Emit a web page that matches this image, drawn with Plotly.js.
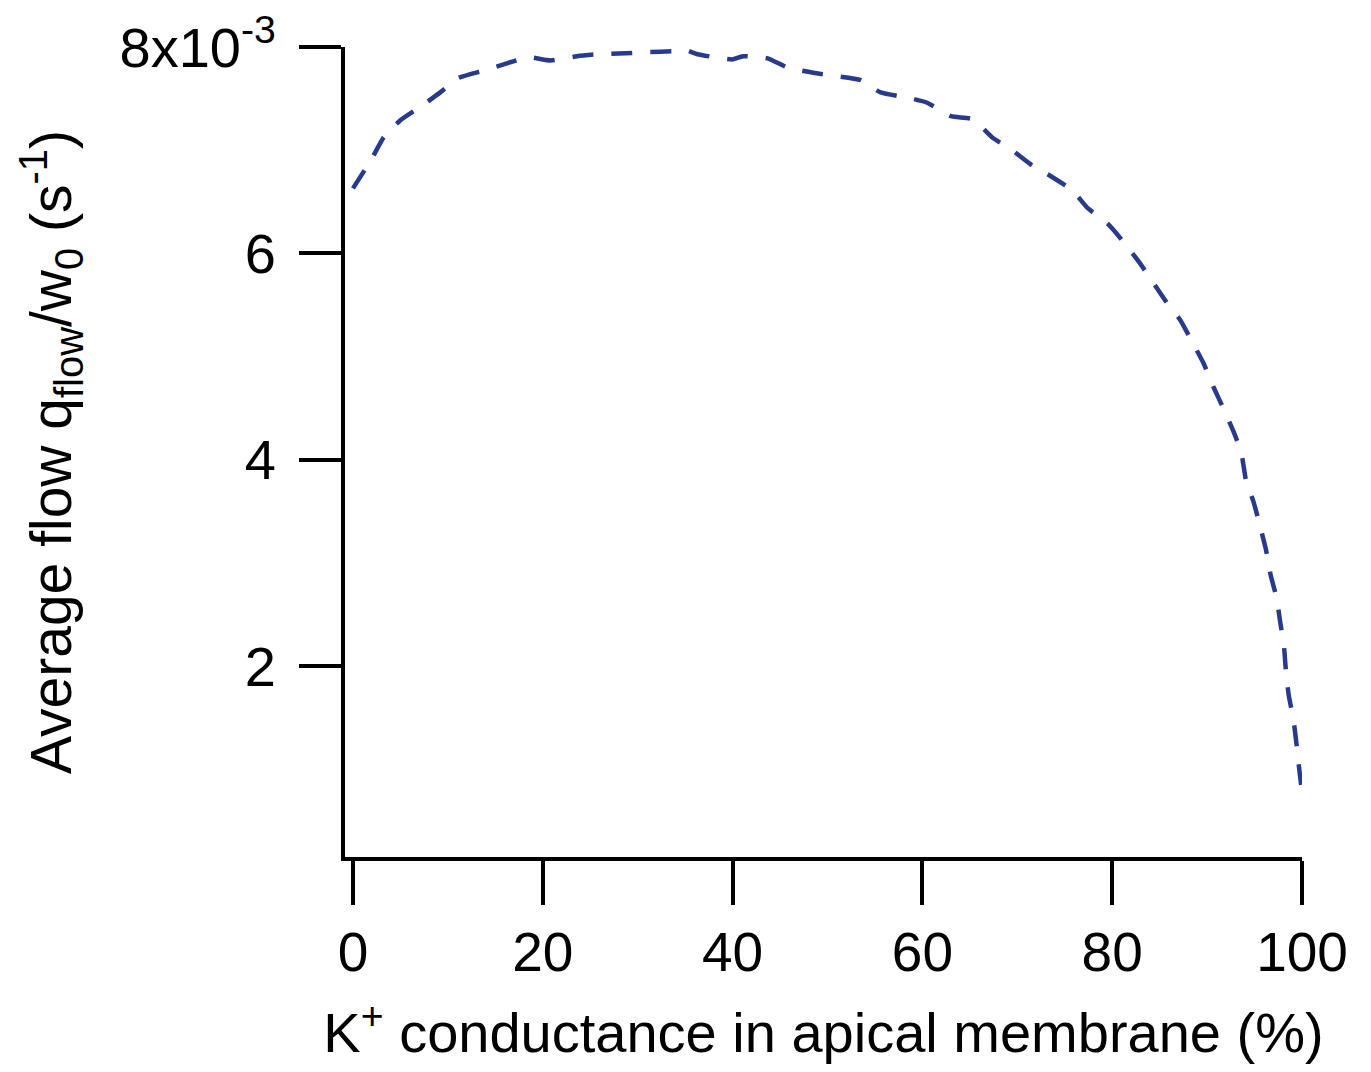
<!DOCTYPE html>
<html>
<head>
<meta charset="utf-8">
<script src="https://cdn.plot.ly/plotly-3.0.1.min.js"></script>
<style>html,body{margin:0;padding:0;background:#fff;}#chart{width:1371px;height:1072px;}</style>
</head>
<body>
<div id="chart"></div>
<script>
// K+ conductance in apical membrane (%)
const conductance = [0, 2, 3.2, 5, 7.1, 9.2, 11.1, 13.7, 15.8, 18.5, 20.8, 23.6, 25.8, 28.7, 31.1, 33.8, 35, 36.3, 38.9, 40, 41.1, 43.7, 45.8, 48.5, 50.8, 53.5, 55.6, 58.4, 60.5, 63, 65.3, 67.4, 69.3, 71.6, 73.5, 75.8, 77.4, 79.6, 81.2, 82.8, 84.3, 85.7, 87.2, 88.5, 89.6, 90.7, 91.7, 92.8, 93.6, 94.1, 94.9, 95.6, 96.2, 96.7, 97.3, 97.7, 98.1, 98.3, 98.6, 99.1, 99.4, 99.7, 100];
// Average flow q_flow/w_0 in units of 1e-3 s^-1
const flow = [6.63, 6.92, 7.12, 7.29, 7.42, 7.56, 7.70, 7.77, 7.83, 7.90, 7.87, 7.91, 7.93, 7.94, 7.95, 7.96, 7.97, 7.93, 7.89, 7.88, 7.91, 7.89, 7.80, 7.75, 7.72, 7.68, 7.56, 7.51, 7.46, 7.33, 7.30, 7.12, 7.01, 6.85, 6.75, 6.61, 6.44, 6.28, 6.11, 5.92, 5.72, 5.53, 5.35, 5.13, 4.94, 4.70, 4.50, 4.27, 4.07, 3.80, 3.59, 3.35, 3.13, 2.88, 2.67, 2.43, 2.19, 1.96, 1.72, 1.48, 1.26, 1.01, 0.78];
const xTickVals = [0, 20, 40, 60, 80, 100];
const yTickVals = [2, 4, 6, 8];
const yTickText = ["2", "4", "6", "8x10<sup>-3</sup>"];

const font = "Arial, 'Liberation Sans', Helvetica, sans-serif";

const trace = {
  x: conductance,
  y: flow,
  type: "scatter",
  mode: "lines",
  line: {color: "#283a8c", width: 4.5, dash: "21px,18px", shape: "spline", smoothing: 0.5},
  hoverinfo: "skip"
};

const layout = {
  width: 1371,
  height: 1072,
  margin: {l: 345, r: 69, t: 47, b: 215},
  paper_bgcolor: "#fff",
  plot_bgcolor: "#fff",
  showlegend: false,
  font: {family: font, color: "#000", size: 55},
  xaxis: {
    range: [-0.84, 100],
    tickvals: xTickVals,
    ticks: "outside",
    ticklen: 44,
    tickwidth: 4,
    tickcolor: "#000",
    showline: true,
    linewidth: 4,
    linecolor: "#000",
    showgrid: false,
    zeroline: false,
    ticklabelstandoff: 0,
    tickfont: {family: font, size: 55, color: "#000"},
    title: {text: "K<sup>+</sup> conductance in apical membrane (%)", font: {family: font, size: 56, color: "#000"}, standoff: 32},
    automargin: "bottom"
  },
  yaxis: {
    range: [0.15, 8],
    tickvals: yTickVals,
    ticktext: yTickText,
    ticks: "outside",
    ticklen: 42,
    tickwidth: 4,
    tickcolor: "#000",
    showline: true,
    linewidth: 4,
    linecolor: "#000",
    showgrid: false,
    zeroline: false,
    ticklabelstandoff: 12,
    tickfont: {family: font, size: 56, color: "#000"},
    title: {text: "Average flow q<sub>flow</sub>/w<sub>0</sub> (s<sup>-1</sup>)", font: {family: font, size: 57, color: "#000"}, standoff: 31},
    automargin: "left"
  }
};

Plotly.newPlot("chart", [trace], layout, {displayModeBar: false, staticPlot: true});
</script>
</body>
</html>
